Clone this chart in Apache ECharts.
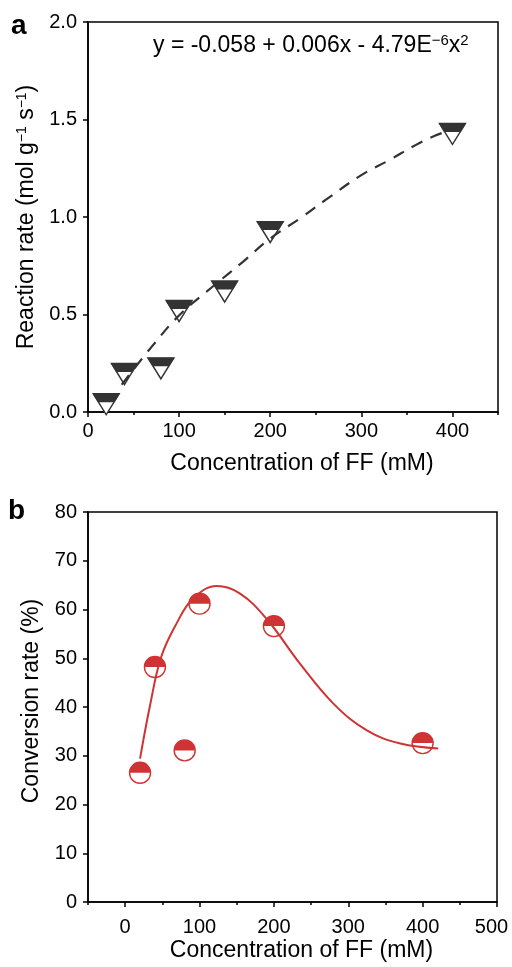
<!DOCTYPE html>
<html><head><meta charset="utf-8">
<script src="https://cdn.jsdelivr.net/npm/echarts@6/dist/echarts.min.js"></script>
<style>html,body{margin:0;padding:0;background:#fff}#c{width:512px;height:967px}</style>
</head><body><div id="c"></div>
<script>
// Panel a: reaction rate vs concentration
const concA = [20, 40, 80, 100, 150, 200, 400];
const rateA = [0.04, 0.195, 0.224, 0.518, 0.618, 0.923, 1.426];
const fitAx = [37, 70, 101, 140, 170, 200, 235, 260, 300, 330, 360, 380, 400];
const fitAy = [0.14, 0.335, 0.50, 0.655, 0.77, 0.89, 1.0, 1.085, 1.215, 1.29, 1.37, 1.415, 1.45];
const xTicksA = [0, 100, 200, 300, 400];
const xMinorA = [50, 150, 250, 350, 450];
// Panel b: conversion rate vs concentration
const concB = [20, 40, 80, 100, 200, 400];
const convB = [26.5, 48.2, 31.1, 61.2, 56.6, 32.6];
const fitBx = [20, 33, 48.5, 69, 91, 123, 154, 190, 235, 280, 325, 370, 421];
const fitBy = [29.4, 40, 50.3, 57.1, 62.2, 64.8, 63.3, 58.1, 48.9, 40.7, 35.2, 32.5, 31.5];
const xTicksB = [0, 100, 200, 300, 400, 500];
const xMinorB = [-50, 50, 150, 250, 350, 450];

const FONT = "'Liberation Sans', Arial, sans-serif";
const DARK = '#333333';
const RED = '#cf3333';
const zip = (a, b) => a.map((v, i) => [v, b[i]]);

const chart = echarts.init(document.getElementById('c'), null, {renderer: 'canvas'});

const axLine = {show: true, onZero: false, lineStyle: {color: '#000', width: 1.5}};
function majorX(grid, min, max, ticks, margin, name, gap) {
  return {
    type: 'value', gridIndex: grid, min: min, max: max, position: 'bottom',
    axisLine: axLine, splitLine: {show: false},
    axisTick: {show: true, length: 5, customValues: ticks, lineStyle: {color: '#000', width: 1.5}},
    axisLabel: {show: true, customValues: ticks, margin: margin, fontSize: 20, color: '#000', fontFamily: FONT,
      formatter: v => (v === 500 ? '{r|' + v + '}' : String(v)),
      rich: {r: {fontSize: 20, color: '#000', fontFamily: FONT, padding: [0, 11, 0, 0]}}},
    name: name, nameLocation: 'middle', nameGap: gap,
    nameTextStyle: {fontSize: 23, color: '#000', fontFamily: FONT, padding: [0, 0, 0, 18]}
  };
}
function minorX(grid, min, max, ticks) {
  return {
    type: 'value', gridIndex: grid, min: min, max: max, position: 'bottom',
    axisLine: {show: false, onZero: false}, splitLine: {show: false}, axisLabel: {show: false},
    axisTick: {show: true, length: 3, customValues: ticks, lineStyle: {color: '#000', width: 1.5}}
  };
}

const option = {
  backgroundColor: '#fff',
  animation: false,
  grid: [
    {left: 88, top: 22, width: 410, height: 390, show: true, borderColor: '#000', borderWidth: 1.5,
     backgroundColor: 'transparent', containLabel: false, outerBoundsMode: 'none'},
    {left: 88, top: 512, width: 409, height: 390, show: true, borderColor: '#000', borderWidth: 1.5,
     backgroundColor: 'transparent', containLabel: false, outerBoundsMode: 'none'}
  ],
  xAxis: [
    majorX(0, 0, 450, xTicksA, 9, 'Concentration of FF (mM)', 40),
    minorX(0, 0, 450, xMinorA),
    majorX(1, -50, 500, xTicksB, 15, 'Concentration of FF (mM)', 37),
    minorX(1, -50, 500, xMinorB)
  ],
  yAxis: [
    {
      type: 'value', gridIndex: 0, min: 0, max: 2, interval: 0.5,
      axisLine: axLine, splitLine: {show: false},
      axisTick: {show: true, length: 5, lineStyle: {color: '#000', width: 1.5}},
      axisLabel: {margin: 11, fontSize: 20, color: '#000', fontFamily: FONT, formatter: v => v.toFixed(1)},
      name: 'Reaction rate (mol g{s|−1} s{s|−1})', nameLocation: 'middle', nameGap: 47,
      nameTextStyle: {fontSize: 23, color: '#000', fontFamily: FONT,
        rich: {s: {fontSize: 14, color: '#000', fontFamily: FONT, verticalAlign: 'top', lineHeight: 14}}}
    },
    {
      type: 'value', gridIndex: 1, min: 0, max: 80, interval: 10,
      axisLine: axLine, splitLine: {show: false},
      axisTick: {show: true, length: 5, lineStyle: {color: '#000', width: 1.5}},
      axisLabel: {margin: 11, fontSize: 20, color: '#000', fontFamily: FONT},
      name: 'Conversion rate (%)', nameLocation: 'middle', nameGap: 45,
      nameTextStyle: {fontSize: 23, color: '#000', fontFamily: FONT, padding: [0, 0, 0, 12]}
    }
  ],
  series: [
    {
      type: 'scatter', xAxisIndex: 0, yAxisIndex: 0, data: zip(concA, rateA),
      symbol: 'path://M0,0 L26,0 L13,21 Z', symbolSize: [26, 21],
      itemStyle: {color: '#fff', borderColor: DARK, borderWidth: 1.4, opacity: 1}, z: 2
    },
    {
      type: 'scatter', xAxisIndex: 0, yAxisIndex: 0, data: zip(concA, rateA),
      symbol: 'path://M0,0 L26,0 L21,8 L5,8 Z', symbolSize: [27, 8.5], symbolOffset: [0, -6.3],
      itemStyle: {color: DARK, opacity: 1}, z: 3
    },
    {
      type: 'line', xAxisIndex: 0, yAxisIndex: 0, data: zip(fitAx, fitAy), smooth: 0.4,
      showSymbol: false, symbol: 'none',
      lineStyle: {color: DARK, width: 2.2, type: [12, 9]}, z: 4
    },
    {
      type: 'scatter', xAxisIndex: 2, yAxisIndex: 1, data: zip(concB, convB),
      symbol: 'circle', symbolSize: 21,
      itemStyle: {color: '#fff', borderColor: RED, borderWidth: 1.4, opacity: 1}, z: 2
    },
    {
      type: 'scatter', xAxisIndex: 2, yAxisIndex: 1, data: zip(concB, convB),
      symbol: 'path://M0,10 A10,10 0 0 1 20,10 Z', symbolSize: [21, 10.5], symbolOffset: [0, -5.25],
      itemStyle: {color: RED, opacity: 1}, z: 3
    },
    {
      type: 'line', xAxisIndex: 2, yAxisIndex: 1, data: zip(fitBx, fitBy), smooth: 0.4,
      showSymbol: false, symbol: 'none',
      lineStyle: {color: RED, width: 2}, z: 4
    }
  ],
  graphic: [
    {type: 'text', left: 11, top: 12, style: {text: 'a', font: "bold 28px 'Liberation Sans', Arial", fill: '#000'}},
    {type: 'text', left: 8, top: 497, style: {text: 'b', font: "bold 28px 'Liberation Sans', Arial", fill: '#000'}},
    {type: 'text', left: 153, top: 33, style: {
      text: '{n|y = -0.058 + 0.006x - 4.79E}{s|−6}{n|x}{s|2}',
      rich: {
        n: {fontSize: 23, fontFamily: FONT, fill: '#000', lineHeight: 25},
        s: {fontSize: 15, fontFamily: FONT, fill: '#000', verticalAlign: 'top', lineHeight: 15}
      }
    }}
  ]
};
chart.setOption(option);
</script>
</body></html>
